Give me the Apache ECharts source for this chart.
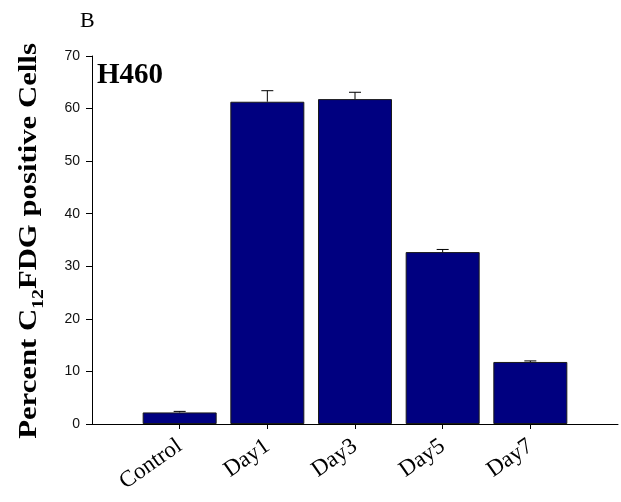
<!DOCTYPE html>
<html>
<head>
<meta charset="utf-8">
<script src="https://cdn.jsdelivr.net/npm/echarts@6/dist/echarts.min.js"></script>
<style>
  html, body { margin: 0; padding: 0; background: #fff; }
  #chart { width: 621px; height: 502px; }
</style>
</head>
<body>
<div id="chart"></div>
<script>
// Groups along the time course
var categories = ['Control', 'Day1', 'Day3', 'Day5', 'Day7'];
// Percent of C12FDG positive cells (mean)
var percentPositive = [2.2, 61.3, 61.8, 32.7, 11.8];
// Upper error (SD)
var errorUpper = [0.2, 2.1, 1.3, 0.5, 0.2];
// Y axis tick settings
var yTicks = [0, 10, 20, 30, 40, 50, 60, 70];

// Category axis padded with an empty slot on each side so bars sit on ticks
var axisCats = [''].concat(categories, ['']);
var barData = [null].concat(percentPositive, [null]);
var errData = categories.map(function (c, i) {
  return [i + 1, percentPositive[i], percentPositive[i] + errorUpper[i]];
});

var chart = echarts.init(document.getElementById('chart'), null, { renderer: 'canvas' });

var serif = '"Liberation Serif", "Times New Roman", serif';
var sans = '"Liberation Sans", Arial, sans-serif';

chart.setOption({
  animation: false,
  backgroundColor: '#fff',
  grid: { left: 92, top: 56, width: 526, height: 368, containLabel: false },
  xAxis: {
    type: 'category',
    data: axisCats,
    boundaryGap: false,
    axisLine: { show: true, lineStyle: { color: '#000', width: 1 } },
    axisTick: {
      show: true, length: 5,
      lineStyle: { color: '#000', width: 1 },
      interval: function (idx, val) { return val !== ''; }
    },
    axisLabel: {
      interval: 0, rotate: 35, margin: 20,
      fontFamily: serif, fontSize: 23, color: '#000'
    },
    splitLine: { show: false }
  },
  yAxis: {
    type: 'value',
    min: yTicks[0], max: yTicks[yTicks.length - 1], interval: 10,
    axisLine: { show: true, lineStyle: { color: '#000', width: 1 } },
    axisTick: { show: true, length: 6, lineStyle: { color: '#000', width: 1 } },
    axisLabel: { margin: 12, fontFamily: sans, fontSize: 14, color: '#111' },
    splitLine: { show: false }
  },
  series: [
    {
      type: 'bar',
      data: barData,
      barWidth: 74,
      itemStyle: { color: '#000080', borderColor: '#1a1a1a', borderWidth: 1 },
      z: 2
    },
    {
      type: 'custom',
      data: errData,
      z: 3,
      renderItem: function (params, api) {
        var x = api.value(0);
        var base = api.coord([x, api.value(1)]);
        var top = api.coord([x, api.value(2)]);
        var half = 6;
        var style = { stroke: '#000', lineWidth: 1 };
        return {
          type: 'group',
          children: [
            { type: 'line', shape: { x1: base[0], y1: base[1], x2: top[0], y2: top[1] }, style: style },
            { type: 'line', shape: { x1: top[0] - half, y1: top[1], x2: top[0] + half, y2: top[1] }, style: style }
          ]
        };
      }
    }
  ],
  graphic: [
    {
      type: 'text', left: 80, top: 10,
      style: { text: 'B', font: '22px ' + serif, fill: '#000' }
    },
    {
      type: 'text', left: 97, top: 61,
      style: { text: 'H460', font: 'bold 29px ' + serif, fill: '#000' }
    },
    {
      type: 'text',
      x: 32, y: 241,
      rotation: Math.PI / 2,
      scaleX: 1.23,
      style: {
        text: '{a|Percent C}{s|12}{a|FDG positive Cells}',
        align: 'center',
        verticalAlign: 'middle',
        fill: '#000',
        rich: {
          a: { fontFamily: serif, fontWeight: 'bold', fontSize: 25, fill: '#000', verticalAlign: 'top' },
          s: { fontFamily: serif, fontWeight: 'bold', fontSize: 16, fill: '#000', verticalAlign: 'bottom', padding: [14, 0, 0, 0] }
        }
      }
    }
  ]
});
</script>
</body>
</html>
